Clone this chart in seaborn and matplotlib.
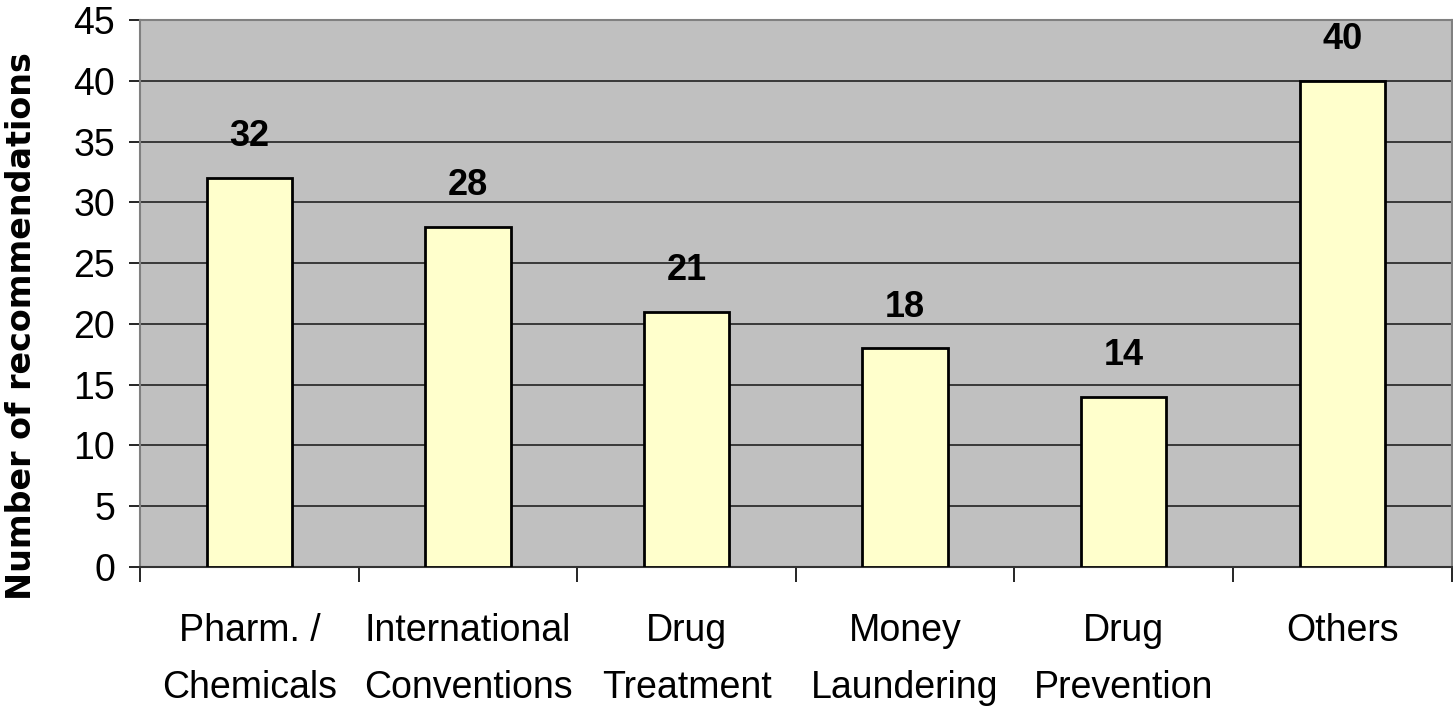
import pandas as pd
import seaborn as sns
import matplotlib.pyplot as plt

# Veriler
categories = ['Pharm. /\nChemicals', 'International\nConventions', 'Drug\nTreatment',
              'Money\nLaundering', 'Drug\nPrevention', 'Others']
counts = [32, 28, 21, 18, 14, 40]
y_ticks = list(range(0, 50, 5))

data = pd.DataFrame({'Kategori': categories, 'Sayi': counts})

narrow = ['Liberation Sans Narrow', 'Liberation Sans', 'DejaVu Sans']
plt.rcParams['font.family'] = narrow

fig = plt.figure(figsize=(14.53, 7.10), dpi=100)
ax = fig.add_axes([0.0964, 0.2014, 0.9026, 0.7704])
ax.set_facecolor('#C0C0C0')

sns.barplot(data=data, x='Kategori', y='Sayi', color='#FFFFCC', edgecolor='black',
            linewidth=2, width=0.39, saturation=1, ax=ax, zorder=3)

ax.bar_label(ax.containers[0], padding=17, fontsize=26, fontweight='bold', zorder=4)

ax.set_ylim(0, 45)
ax.set_xlim(-0.5, 5.5)
ax.set_yticks(y_ticks)
ax.yaxis.grid(True, color='#222222', linewidth=1.2, zorder=1)
ax.set_axisbelow(True)

ax.tick_params(axis='y', labelsize=27, length=8, width=1.2, pad=10)
ax.tick_params(axis='x', which='major', labelsize=27, length=0, pad=33)
ax.set_xticks([i - 0.5 for i in range(7)], minor=True)
ax.tick_params(axis='x', which='minor', length=11, width=1.2)
for lbl in ax.get_xticklabels():
    lbl.set_linespacing(1.75)

for s in ax.spines.values():
    s.set_color('#808080')
    s.set_linewidth(1.5)
ax.spines['bottom'].set_color('#333333')

ax.set_xlabel('')
ax.set_ylabel('Number of recommendations', fontsize=24, fontweight='bold',
              family='DejaVu Sans')
ax.yaxis.set_label_coords(-0.078, 0.44)

plt.savefig('out.png', dpi=100)
